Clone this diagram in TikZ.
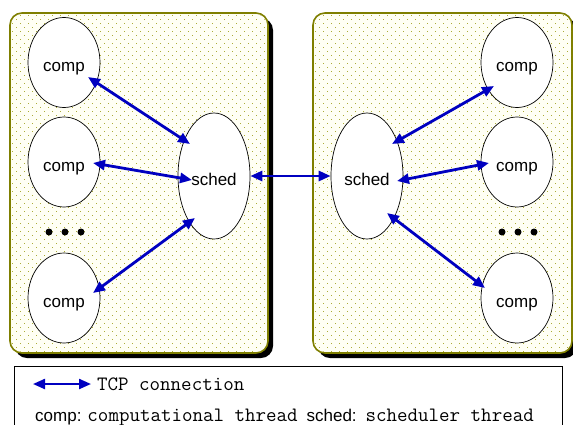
\documentclass[tikz,border=0pt]{standalone}
\usepackage{fontspec}
\setmainfont{Liberation Sans}
\usetikzlibrary{arrows.meta,calc,shapes.geometric}

\definecolor{panelrim}{HTML}{7F7F00}
\definecolor{panelfill}{HTML}{FFFFF4}
\definecolor{paneldot}{HTML}{ACAC38}
\definecolor{linkblue}{HTML}{0000C0}

\tikzset{
  panel/.style={draw=panelrim, line width=1.6pt, fill=panelfill, rounded corners=12pt},
  panelshadow/.style={fill=black, rounded corners=12pt},
  thread/.style={ellipse, draw=black, line width=0.7pt, fill=white, inner sep=0pt,
    text height=18pt, text depth=0pt, font=\fontsize{17}{20}\selectfont},
  comp/.style={thread, minimum width=72pt, minimum height=90pt},
  sched/.style={thread, minimum width=72pt, minimum height=126pt},
  tcp/.style={linkblue, line width=2.8pt,
    {Triangle[length=12pt,width=10pt]}-{Triangle[length=12pt,width=10pt]}},
  more/.style={fill=black, circle, inner sep=0pt, minimum size=7pt},
  legendtext/.style={inner sep=0pt, anchor=base west, font=\fontsize{17}{20}\selectfont}
}

% typewriter text of the legend
\newcommand{\legendmono}[1]{{\fontsize{20.4}{24}\selectfont\ttfamily #1}}

% dotted texture inside a panel: #1 = left, #2 = top
\newcommand{\paneldots}[2]{%
  \foreach \j in {0,...,86}{%
    \foreach \i in {0,...,33}{%
      \fill[paneldot] ({#1+2+8*\i+4*mod(\j,2)},{#2+2+4*\j}) rectangle ++(1.1,1.1);
    }%
  }%
}

\begin{document}
\begin{tikzpicture}[x=1pt,y=-1pt]
\useasboundingbox (0,0) rectangle (573,424);

% panels with drop shadows
\fill[panelshadow] (15,18) rectangle (273,358);
\fill[panelshadow] (318,18) rectangle (577,358);
\draw[panel] (10,13) rectangle (268,353);
\draw[panel] (313,13) rectangle (572,353);
\begin{scope}
  \clip[rounded corners=12pt] (11,14) rectangle (267,352);
  \paneldots{10}{13}
\end{scope}
\begin{scope}
  \clip[rounded corners=12pt] (314,14) rectangle (571,352);
  \paneldots{313}{13}
\end{scope}

% left host
\node[comp] (lc1) at (64,62.5) {comp};
\node[comp] (lc2) at (64,162) {comp};
\node[comp] (lc3) at (64,298) {comp};
\node[sched] (ls) at (214,176) {sched};
\node[more] (ld1) at (49,232) {};
\node[more] (ld2) at (65,232) {};
\node[more] (ld3) at (81,232) {};

% right host
\node[comp] (rc1) at (517,62.5) {comp};
\node[comp] (rc2) at (517,162) {comp};
\node[comp] (rc3) at (517,298) {comp};
\node[sched] (rs) at (367,176) {sched};
\node[more] (rd1) at (502,232) {};
\node[more] (rd2) at (518,232) {};
\node[more] (rd3) at (534,232) {};

% TCP connections
\draw[tcp] ($(lc1)+(24,14.5)$) -- ($(ls)+(-24,-32)$);
\draw[tcp] ($(lc2)+(29,1)$) -- ($(ls)+(-22,4)$);
\draw[tcp] ($(lc3)+(29,-5)$) -- ($(ls)+(-19,42)$);
\draw[tcp] (ls.east) -- (rs.west);
\draw[tcp] ($(rc1)+(-23,23.5)$) -- ($(rs)+(25,-32)$);
\draw[tcp] ($(rc2)+(-28,1)$) -- ($(rs)+(30,5)$);
\draw[tcp] ($(rc3)+(-32,-10)$) -- ($(rs)+(20,37)$);

% legend
\draw[black, line width=0.8pt] (14,366) rectangle (562,440);
\coordinate (ka) at (33,384);
\coordinate (kb) at (91,384);
\draw[tcp, line width=2.2pt] (ka) -- (kb);
\node[legendtext] (tcplabel) at (97,390) {\legendmono{TCP connection}};
\node[legendtext] (keys) at (35,421)
  {comp:\hspace{6pt}\legendmono{computational thread}\hspace{9pt}sched:\hspace{9pt}\legendmono{scheduler thread}};
\end{tikzpicture}
\end{document}
